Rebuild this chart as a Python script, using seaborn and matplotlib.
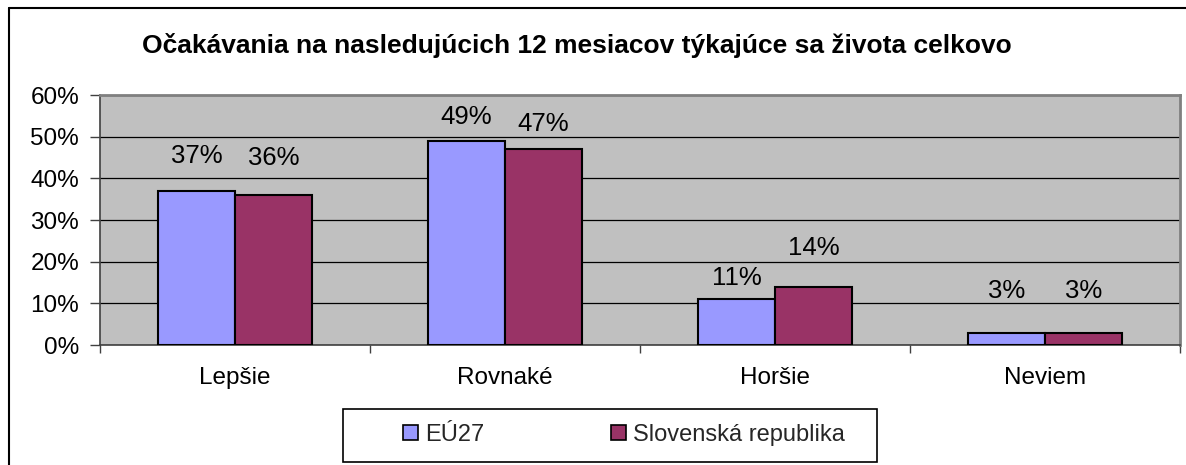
import matplotlib
matplotlib.use("Agg")
import matplotlib.pyplot as plt
import seaborn as sns
import pandas as pd
from matplotlib.patches import Rectangle
from matplotlib.lines import Line2D

categories = ["Lepšie", "Rovnaké", "Horšie", "Neviem"]
eu27 = [37, 49, 11, 3]
slovakia = [36, 47, 14, 3]
series_names = ["EÚ27", "Slovenská republika"]
title = "Očakávania na nasledujúcich 12 mesiacov týkajúce sa života celkovo"
yticks = [0, 10, 20, 30, 40, 50, 60]

# label vertical offsets (pixels above bar top), mimicking the original placement
label_offsets_eu = [35, 24, 21, 42]
label_offsets_sk = [37, 25, 39, 42]

colors = ["#9999FF", "#993366"]

df = pd.DataFrame({
    "cat": categories * 2,
    "val": eu27 + slovakia,
    "series": [series_names[0]] * 4 + [series_names[1]] * 4,
})

sns.set_theme(style="white")
plt.rcParams["font.family"] = ["Liberation Sans", "DejaVu Sans"]

fig = plt.figure(figsize=(11.86, 4.65), dpi=100)
ax = fig.add_axes([100 / 1186, 1 - 345 / 465, 1080 / 1186, 250 / 465])

sns.barplot(data=df, x="cat", y="val", hue="series", palette=colors,
            order=categories, hue_order=series_names, width=0.57,
            saturation=1, edgecolor="black", linewidth=1.5, ax=ax,
            legend=False, zorder=3)

ax.set_facecolor("#C0C0C0")
ax.set_ylim(0, 60)
ax.set_xlim(-0.5, len(categories) - 0.5)
ax.set_yticks(yticks)
ax.set_yticklabels([f"{v}%" for v in yticks], fontsize=17.5, color="black")
ax.yaxis.grid(True, color="black", linewidth=0.9, zorder=0)
ax.set_axisbelow(True)
ax.set_xlabel("")
ax.set_ylabel("")
ax.tick_params(axis="y", which="major", direction="out", length=7, width=1,
               color="#404040", left=True, pad=8)
ax.tick_params(axis="x", which="major", length=0, pad=16, labelsize=17.5,
               labelcolor="black")
ax.set_xticks([i - 0.5 for i in range(len(categories) + 1)], minor=True)
ax.tick_params(axis="x", which="minor", direction="out", length=6, width=1,
               color="#404040", bottom=True)

for side in ["top", "right"]:
    ax.spines[side].set_color("#808080")
    ax.spines[side].set_linewidth(2)
ax.spines["left"].set_color("#404040")
ax.spines["bottom"].set_color("#404040")
ax.spines["left"].set_linewidth(1.2)
ax.spines["bottom"].set_linewidth(1.2)

# value labels
for cont, vals, offs in zip(ax.containers, [eu27, slovakia],
                            [label_offsets_eu, label_offsets_sk]):
    for bar, v, off in zip(cont, vals, offs):
        ax.annotate(f"{v}%", (bar.get_x() + bar.get_width() / 2, bar.get_height()),
                    xytext=(0, off * 0.72), textcoords="offset points",
                    ha="center", va="center", fontsize=18.5, color="black",
                    zorder=5)

fig.text(577 / 1186, 1 - 46 / 465, title, ha="center", va="center",
         fontsize=19, fontweight="bold", color="black")

# outer chart border (left and top)
fig.add_artist(Line2D([9 / 1186, 9 / 1186], [0, 1 - 8 / 465],
                      transform=fig.transFigure, color="black", linewidth=1.5))
fig.add_artist(Line2D([9 / 1186, 1], [1 - 8 / 465, 1 - 8 / 465],
                      transform=fig.transFigure, color="black", linewidth=1.5))

# legend frame
fig.add_artist(Rectangle((343 / 1186, 1 - 462 / 465), 534 / 1186, 53 / 465,
                         transform=fig.transFigure, facecolor="white",
                         edgecolor="black", linewidth=1.2, zorder=1))
handles = [Rectangle((0, 0), 1, 1, facecolor=c, edgecolor="black", linewidth=1.2)
           for c in colors]
leg = fig.legend(handles, series_names, loc="center",
                 bbox_to_anchor=(624 / 1186, 1 - 435 / 465), ncol=2,
                 frameon=False, fontsize=17, handlelength=0.6, handleheight=0.6,
                 handletextpad=0.3, columnspacing=5.4)
leg.set_zorder(2)

fig.savefig("out.png", dpi=100, facecolor="white")
